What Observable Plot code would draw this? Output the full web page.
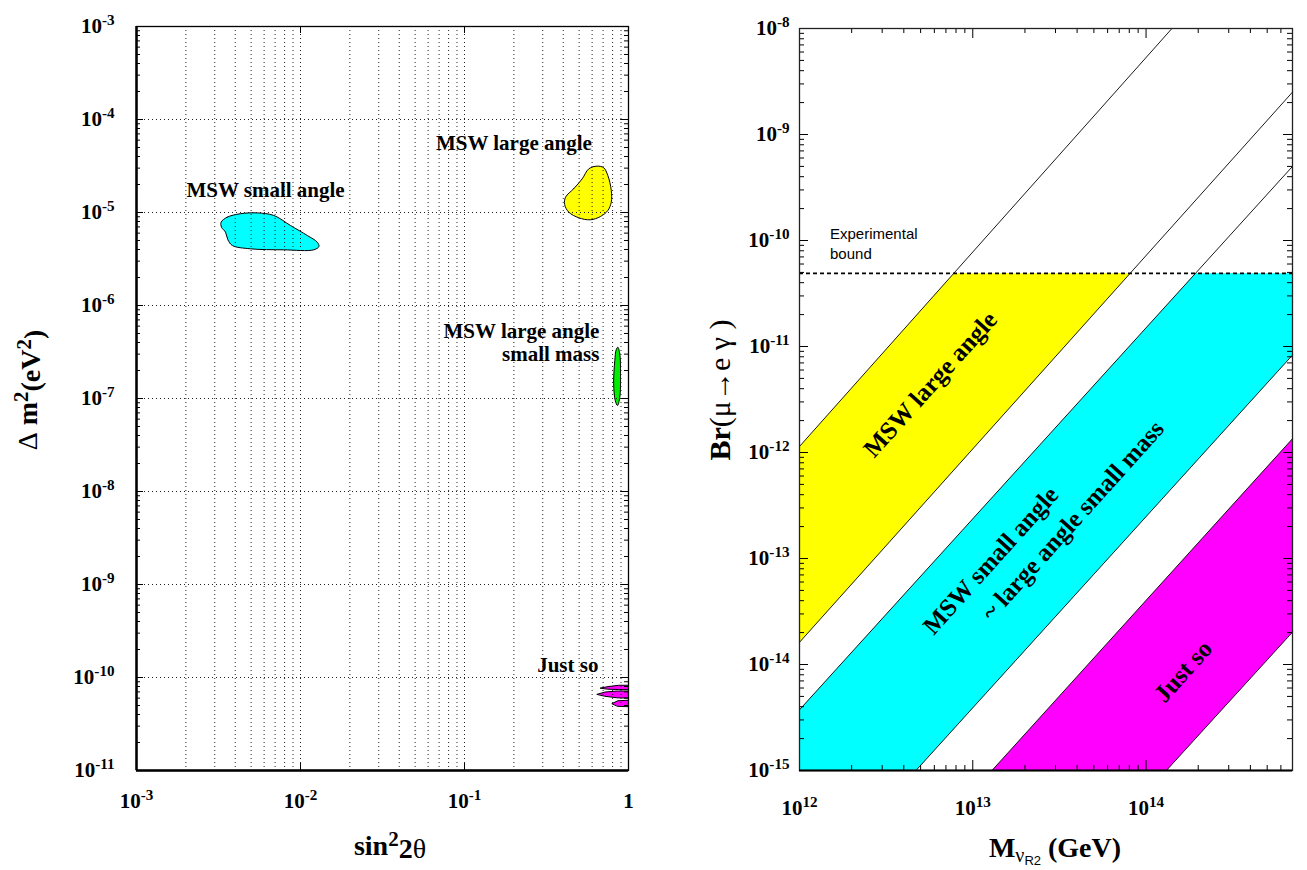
<!DOCTYPE html>
<html><head><meta charset="utf-8">
<script src="https://cdn.jsdelivr.net/npm/d3@7"></script>
<script src="https://cdn.jsdelivr.net/npm/@observablehq/plot@0.6"></script>
<style>
body{margin:0;background:#fff;}
#wrap{display:flex;width:1307px;height:870px;}
</style></head><body><div id="wrap"></div>
<script>
// ---------- LEFT PANEL DATA (sin^2 2θ, Δm^2 in eV^2) ----------
const xDecadesL = [1e-3, 1e-2, 1e-1, 1];
const xLabelsL = ["10^-3", "10^-2", "10^-1", "1"];
const yDecadesL = [1e-11, 1e-10, 1e-9, 1e-8, 1e-7, 1e-6, 1e-5, 1e-4, 1e-3];
const yLabelsL = ["10^-11","10^-10","10^-9","10^-8","10^-7","10^-6","10^-5","10^-4","10^-3"];

const regionSmallAngle = [[0.00328,7.87e-6],[0.00357,8.9e-6],[0.0043,9.7e-6],[0.00545,9.9e-6],[0.00687,9.3e-6],[0.00869,7.25e-6],[0.0110,5.66e-6],[0.01265,4.8e-6],[0.01295,4.31e-6],[0.01205,3.97e-6],[0.0079,3.97e-6],[0.00495,4.07e-6],[0.00384,4.42e-6],[0.00361,5.08e-6],[0.00349,6.14e-6],[0.0033,6.95e-6]];
const regionLargeAngle = [[0.413,1.46e-5],[0.463,1.80e-5],[0.522,2.30e-5],[0.573,2.95e-5],[0.644,3.15e-5],[0.706,3.03e-5],[0.748,2.50e-5],[0.785,1.73e-5],[0.785,1.29e-5],[0.748,1.05e-5],[0.675,9.06e-6],[0.586,8.35e-6],[0.498,8.77e-6],[0.432,1.01e-5],[0.408,1.22e-5]];
const regionLowMass = [[0.861,3.56e-7],[0.885,3.03e-7],[0.894,1.85e-7],[0.885,1.03e-7],[0.857,8.4e-8],[0.830,9.5e-8],[0.812,1.44e-7],[0.825,2.56e-7],[0.841,3.34e-7]];
const regionJustSoA = [[0.675,7.7e-11],[0.75,7.98e-11],[0.87,8.25e-11],[1.0,8.25e-11],[1.0,7.4e-11],[0.87,7.42e-11],[0.75,7.48e-11]];
const regionJustSoB = [[0.644,6.6e-11],[0.72,6.98e-11],[0.85,7.15e-11],[1.0,7.15e-11],[1.0,6.0e-11],[0.85,6.05e-11],[0.72,6.28e-11]];
const regionJustSoC = [[0.795,5.25e-11],[0.86,5.62e-11],[1.0,5.7e-11],[1.0,4.85e-11],[0.86,4.9e-11]];

const labelsLeftMid = [
  {text: "MSW small angle", x: 6.12e-3, y: 1.73e-5},
  {text: "MSW large angle", x: 0.2, y: 5.52e-5}
];
const labelsLeftEnd = [
  {text: "MSW large angle\nsmall mass", x: 0.665, y: 4.06e-7},
  {text: "Just so", x: 0.656, y: 1.38e-10}
];

// ---------- RIGHT PANEL DATA (M_νR2 in GeV, Br(μ→eγ)) ----------
const xDecadesR = [1e12, 1e13, 1e14];
const xLabelsR = ["10^12", "10^13", "10^14"];
const yDecadesR = [1e-15, 1e-14, 1e-13, 1e-12, 1e-11, 1e-10, 1e-9, 1e-8];
const yLabelsR = ["10^-15","10^-14","10^-13","10^-12","10^-11","10^-10","10^-9","10^-8"];
const massDomain = [1e12, 7e14];
const brDomain = [1e-15, 1e-8];
const expBound = 4.9e-11;

// band boundary lines: endpoints on the frame
const bandLines = [
  {id: "L1", m0: 1e12,   br0: 1.14e-12, m1: 1.41e14, br1: 1e-8},
  {id: "L2", m0: 1e12,   br0: 1.62e-14, m1: 7e14,    br1: 2.51e-9},
  {id: "L3", m0: 1e12,   br0: 3.74e-15, m1: 7e14,    br1: 5.0e-10},
  {id: "L4", m0: 4.7e12, br0: 1e-15,    m1: 7e14,    br1: 8.3e-12},
  {id: "L5", m0: 1.29e13,br0: 1e-15,    m1: 7e14,    br1: 1.35e-12},
  {id: "L6", m0: 1.31e14,br0: 1e-15,    m1: 7e14,    br1: 2.02e-14}
];
const bandLabels = [
  {text: "MSW large angle", m: 5.69e12, br: 4.39e-12},
  {text: "MSW small angle", m: 1.27e13, br: 9.57e-14},
  {text: "~ large angle small mass", m: 3.78e13, br: 2.28e-13},
  {text: "Just so", m: 1.64e14, br: 8.59e-15}
];
const boundLabel = [{text: "Experimental\nbound", m: 1.5e12, br: 9.6e-11}];

// ---------- helpers ----------
function minors(lo, hi, max = Infinity) {
  const out = [];
  for (let k = lo; k < hi; k++) for (let m = 2; m <= 9; m++) { const v = m * Math.pow(10, k); if (v <= max) out.push(v); }
  return out;
}
const L = id => bandLines.find(d => d.id === id);
function mAtBr(line, br) {
  const a = Math.log10(line.m0), b = Math.log10(line.m1), c = Math.log10(line.br0), e = Math.log10(line.br1);
  return Math.pow(10, a + (Math.log10(br) - c) * (b - a) / (e - c));
}
function supify(svg) {
  d3.select(svg).selectAll("text").each(function () {
    const m = /^10\^(-?\d+)$/.exec(this.textContent);
    if (m) {
      const s = d3.select(this);
      s.text(null);
      s.append("tspan").text("10");
      s.append("tspan").attr("dy", "-0.55em").attr("font-size", "0.72em").text(m[1]);
    }
  });
}
const serif = "'Liberation Serif', 'Times New Roman', serif";
const sans = "'Liberation Sans', Arial, sans-serif";

// ---------- LEFT PLOT ----------
const pwL = 492, phL = 744;
const fmtL = (vals, labs) => d => labs[vals.indexOf(d)];
const left = Plot.plot({
  width: 660, height: 870,
  marginLeft: 136, marginRight: 32, marginTop: 26, marginBottom: 100,
  x: {type: "log", domain: [1e-3, 1]},
  y: {type: "log", domain: [1e-11, 1e-3]},
  style: {fontFamily: serif, background: "white", color: "black"},
  marks: [
    Plot.line(regionSmallAngle, {x: d => d[0], y: d => d[1], curve: "catmull-rom-closed", fill: "#00ffff", stroke: "black", strokeWidth: 1}),
    Plot.line(regionLargeAngle, {x: d => d[0], y: d => d[1], curve: "catmull-rom-closed", fill: "#ffff00", stroke: "black", strokeWidth: 1}),
    Plot.line(regionLowMass, {x: d => d[0], y: d => d[1], curve: "catmull-rom-closed", fill: "#00ee00", stroke: "black", strokeWidth: 1}),
    Plot.line(regionJustSoA, {x: d => d[0], y: d => d[1], curve: "linear-closed", fill: "#ff00ff", stroke: "black", strokeWidth: 1}),
    Plot.line(regionJustSoB, {x: d => d[0], y: d => d[1], curve: "linear-closed", fill: "#ff00ff", stroke: "black", strokeWidth: 1}),
    Plot.line(regionJustSoC, {x: d => d[0], y: d => d[1], curve: "linear-closed", fill: "#ff00ff", stroke: "black", strokeWidth: 1}),
    Plot.ruleX(minors(-3, 0).concat([1e-2, 1e-1]), {stroke: "#222", strokeWidth: 1, strokeDasharray: "1,3"}),
    Plot.ruleY(yDecadesL.slice(1, -1), {stroke: "#222", strokeWidth: 1, strokeDasharray: "1,3"}),
    Plot.tickY(minors(-11, -3), {insetRight: pwL - 4, strokeWidth: 1}),
    Plot.tickY(minors(-11, -3), {insetLeft: pwL - 4, strokeWidth: 1}),
    Plot.tickY(yDecadesL, {insetRight: pwL - 7, strokeWidth: 1}),
    Plot.tickY(yDecadesL, {insetLeft: pwL - 7, strokeWidth: 1}),
    Plot.tickX(xDecadesL, {insetTop: phL - 7, strokeWidth: 1}),
    Plot.tickX(xDecadesL, {insetBottom: phL - 7, strokeWidth: 1}),
    Plot.frame({stroke: "black", strokeWidth: 1.3}),
    Plot.ruleX([1e-3], {strokeWidth: 2.5}),
    Plot.ruleY([1e-11], {strokeWidth: 2.5}),
    Plot.text(labelsLeftMid, {x: "x", y: "y", text: "text", fontSize: 21, fontWeight: "bold", textAnchor: "middle"}),
    Plot.text(labelsLeftEnd, {x: "x", y: "y", text: "text", fontSize: 21, fontWeight: "bold", textAnchor: "end", lineHeight: 1.1}),
    Plot.axisY({ticks: yDecadesL, tickFormat: fmtL(yDecadesL, yLabelsL), tickSize: 0, tickPadding: 22, fontSize: 21, fontWeight: "bold", label: null}),
    Plot.axisX({ticks: xDecadesL, tickFormat: fmtL(xDecadesL, xLabelsL), tickSize: 0, tickPadding: 23, fontSize: 21, fontWeight: "bold", label: null})
  ]
});
supify(left);
{
  const s = d3.select(left);
  const yt = s.append("text").attr("transform", "translate(37,390) rotate(-90)")
    .attr("text-anchor", "middle").attr("font-family", serif).attr("font-size", 28).attr("font-weight", "bold");
  yt.append("tspan").attr("font-weight", "normal").text("Δ");
  yt.append("tspan").text(" m");
  yt.append("tspan").attr("dy", "-0.45em").attr("font-size", "0.75em").text("2");
  yt.append("tspan").attr("dy", "0.45em").text("(eV");
  yt.append("tspan").attr("dy", "-0.45em").attr("font-size", "0.75em").text("2");
  yt.append("tspan").attr("dy", "0.45em").text(")");
  const xt = s.append("text").attr("x", 390).attr("y", 855)
    .attr("text-anchor", "middle").attr("font-family", serif).attr("font-size", 28).attr("font-weight", "bold");
  xt.append("tspan").text("sin");
  xt.append("tspan").attr("dy", "-0.45em").attr("font-size", "0.75em").text("2");
  xt.append("tspan").attr("dy", "0.45em").text("2");
  xt.append("tspan").attr("font-weight", "normal").text("θ");
}

// ---------- RIGHT PLOT ----------
const pwR = 493, phR = 742;
const yBand = [
  [massDomain[0], L("L1").br0], [mAtBr(L("L1"), expBound), expBound],
  [mAtBr(L("L2"), expBound), expBound], [massDomain[0], L("L2").br0]
];
const cBand = [
  [massDomain[0], brDomain[0]], [massDomain[0], L("L3").br0], [mAtBr(L("L3"), expBound), expBound],
  [massDomain[1], expBound], [massDomain[1], L("L4").br1], [L("L4").m0, brDomain[0]]
];
const mBand = [
  [L("L5").m0, brDomain[0]], [massDomain[1], L("L5").br1], [massDomain[1], L("L6").br1], [L("L6").m0, brDomain[0]]
];
const lineSegs = bandLines.flatMap(d => [{id: d.id, m: d.m0, br: d.br0}, {id: d.id, m: d.m1, br: d.br1}]);
const fmtR = (vals, labs) => d => labs[vals.indexOf(d)];
const right = Plot.plot({
  width: 647, height: 870,
  marginLeft: 139, marginRight: 15, marginTop: 28, marginBottom: 100,
  x: {type: "log", domain: massDomain},
  y: {type: "log", domain: brDomain},
  style: {fontFamily: serif, background: "white", color: "black"},
  marks: [
    Plot.line(yBand, {x: d => d[0], y: d => d[1], curve: "linear-closed", fill: "#ffff00", stroke: "none"}),
    Plot.line(cBand, {x: d => d[0], y: d => d[1], curve: "linear-closed", fill: "#00ffff", stroke: "none"}),
    Plot.line(mBand, {x: d => d[0], y: d => d[1], curve: "linear-closed", fill: "#ff00ff", stroke: "none"}),
    Plot.line(lineSegs, {x: "m", y: "br", z: "id", stroke: "black", strokeWidth: 0.9}),
    Plot.ruleY([expBound], {stroke: "black", strokeWidth: 1.6, strokeDasharray: "4,3"}),
    Plot.tickY(minors(-15, -8), {insetRight: pwR - 5, strokeWidth: 1}),
    Plot.tickY(minors(-15, -8), {insetLeft: pwR - 5, strokeWidth: 1}),
    Plot.tickY(yDecadesR, {insetRight: pwR - 9, strokeWidth: 1}),
    Plot.tickY(yDecadesR, {insetLeft: pwR - 9, strokeWidth: 1}),
    Plot.tickX(minors(12, 15, 6.5e14), {insetTop: phR - 5, strokeWidth: 1}),
    Plot.tickX(minors(12, 15, 6.5e14), {insetBottom: phR - 5, strokeWidth: 1}),
    Plot.tickX(xDecadesR, {insetTop: phR - 10, strokeWidth: 1}),
    Plot.tickX(xDecadesR, {insetBottom: phR - 10, strokeWidth: 1}),
    Plot.frame({stroke: "#222", strokeWidth: 1.3}),
    Plot.ruleY([brDomain[0]], {strokeWidth: 2.2}),
    Plot.text(bandLabels, {x: "m", y: "br", text: "text", rotate: -48, fontSize: 25, fontWeight: "bold"}),
    Plot.text(boundLabel, {x: "m", y: "br", text: "text", textAnchor: "start", fontFamily: sans, fontSize: 15, lineHeight: 1.33}),
    Plot.axisY({ticks: yDecadesR, tickFormat: fmtR(yDecadesR, yLabelsR), tickSize: 0, tickPadding: 10, fontSize: 21, fontWeight: "bold", label: null}),
    Plot.axisX({ticks: xDecadesR, tickFormat: fmtR(xDecadesR, xLabelsR), tickSize: 0, tickPadding: 30, fontSize: 21, fontWeight: "bold", label: null})
  ]
});
supify(right);
{
  const s = d3.select(right);
  const yt = s.append("text").attr("transform", "translate(70,390) rotate(-90)")
    .attr("text-anchor", "middle").attr("font-family", serif).attr("font-size", 30);
  yt.append("tspan").attr("font-weight", "bold").text("Br");
  yt.append("tspan").text("(μ→e γ )");
  const xt = s.append("text").attr("x", 395).attr("y", 857)
    .attr("text-anchor", "middle").attr("font-family", serif).attr("font-size", 28).attr("font-weight", "bold");
  xt.append("tspan").text("M");
  xt.append("tspan").attr("dy", 5).attr("font-size", 20).attr("font-weight", "normal").text("ν");
  xt.append("tspan").attr("dy", 3).attr("font-size", 13).attr("font-weight", "normal").attr("font-family", sans).text("R2");
  xt.append("tspan").attr("dy", -8).text(" (GeV)");
}

document.getElementById("wrap").append(left, right);
</script>
</body></html>
